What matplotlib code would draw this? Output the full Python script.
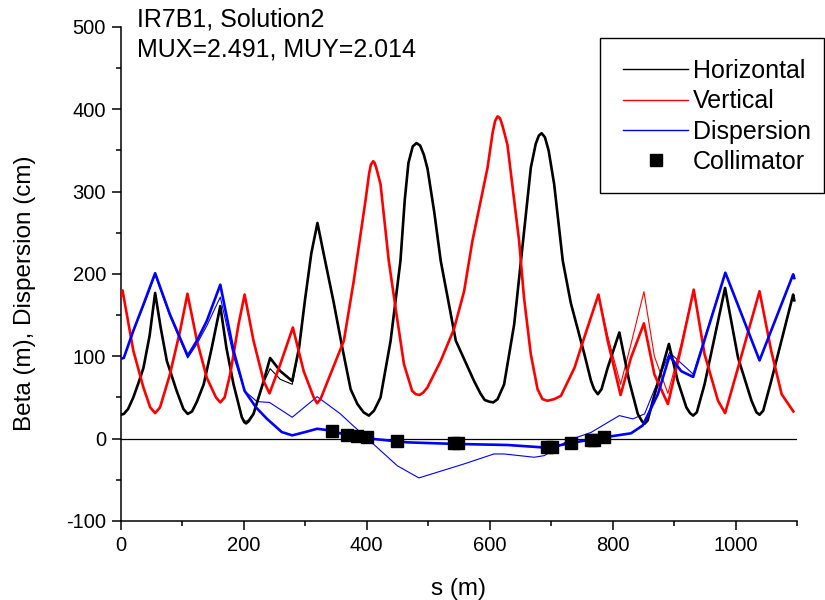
import matplotlib
matplotlib.use('Agg')
import matplotlib.pyplot as plt
from matplotlib.lines import Line2D
from matplotlib.patches import Rectangle
from matplotlib.ticker import MultipleLocator

plt.rcParams['font.family'] = ['Liberation Sans', 'DejaVu Sans']
plt.rcParams['axes.unicode_minus'] = False

# Horizontal beta, solution (thick) and reference (thin)
H_S = [0, 5, 12, 20.5, 30, 37, 47, 56, 65, 75, 91, 102, 109, 116, 124, 135, 148, 162, 172, 183.5, 197, 201,
       204, 208, 216, 232.5, 243, 259.6, 279, 290, 300, 310, 320, 330, 346, 360, 374, 385, 395, 403.6,
       412, 422.6, 439, 455, 462, 468, 475, 481, 487, 493, 499, 510, 520.5, 545, 574.7, 585, 592, 599,
       606, 613, 623.6, 640, 651, 667, 675, 680, 684.6, 690, 696, 705, 719, 732, 754, 765, 770, 776,
       782, 792, 811, 827, 841, 848, 852, 857, 865.5, 891.6, 906, 920, 926, 931, 937, 949.6, 983,
       1004, 1026, 1034, 1039, 1045, 1058, 1093.7, 1095.5]
H_B = [29, 30, 36, 50, 70, 86, 125, 177, 135, 94.5, 58, 36, 30, 33, 45, 66, 110, 161, 110, 66, 26, 20,
       18.5, 21, 30, 70, 98, 82, 70, 110, 170, 225, 262, 225, 167, 112, 60, 42, 32, 28,
       34, 50, 119, 216, 290, 335, 355, 359, 356, 345, 328, 275, 216, 119, 70, 55, 47, 45,
       44, 48, 66, 139, 216, 329, 358, 368, 371, 366, 350, 309, 216, 165, 103, 70, 60, 54,
       60, 86, 129, 70, 30, 21, 18, 22, 46, 115, 70, 38, 31, 28, 32, 66, 183,
       98.5, 46, 32, 29, 34, 70, 175, 168]
H_B_THIN = [29, 30, 36, 50, 70, 86, 125, 177, 135, 94.5, 58, 36, 30, 33, 45, 66, 110, 161, 110, 66, 27, 22,
            21, 23, 31, 68, 85, 72, 66, 108, 170, 225, 262, 225, 167, 112, 60, 42, 32, 28,
            34, 50, 119, 216, 290, 335, 355, 359, 356, 345, 328, 275, 216, 119, 70, 55, 47, 45,
            44, 48, 66, 139, 216, 329, 358, 368, 371, 366, 350, 309, 216, 165, 103, 70, 60, 54,
            60, 86, 129, 70, 30, 21, 18, 22, 46, 115, 70, 38, 31, 28, 32, 66, 183,
            98.5, 46, 32, 29, 34, 70, 175, 168]

# Vertical beta
V_S = [0, 3, 20.5, 37, 48, 56, 64, 80, 96.6, 108.6, 124, 140, 155, 162, 169, 178, 191.7, 201.5, 216, 232.5,
       242, 259.6, 280, 297.6, 314, 319.5, 325, 341, 363, 379, 398, 404, 407, 410.7, 413, 416, 422.6,
       436, 447, 460.7, 474, 480, 486, 492, 498.7, 520.5, 542, 558.5, 572, 596.6, 605, 609, 613, 617,
       621, 629, 648, 656, 667, 678, 686, 694, 705, 716, 738, 754, 777, 792, 813, 830, 851, 868, 890,
       911.6, 932, 949.6, 971.5, 983, 1004, 1039, 1058, 1075, 1094]
V_B = [172, 180, 107, 62, 38, 31, 38, 78, 131, 176, 119, 74, 50, 44, 50, 78, 139, 175, 119, 70,
       55, 90.5, 135, 82, 50, 43, 48, 78, 119, 191.5, 288.5, 322, 333, 337, 335, 328, 309,
       216, 159, 90.5, 58, 54, 53, 56, 62, 94.5, 133, 179, 240, 329, 372, 386, 391.5, 389,
       380, 357, 240, 171, 102.6, 60, 48, 46, 48, 52, 86, 123, 175, 119, 53, 98.5, 140, 78, 42,
       110.7, 181, 102.6, 46, 31, 86, 179, 106.7, 54, 33]
V_B_THIN = [172, 180, 107, 62, 38, 31, 38, 78, 131, 176, 119, 74, 50, 44, 50, 78, 139, 175, 119, 70,
            55, 90.5, 135, 82, 50, 43, 48, 78, 119, 191.5, 288.5, 322, 333, 337, 335, 328, 309,
            216, 159, 90.5, 58, 54, 53, 56, 62, 94.5, 133, 179, 240, 329, 372, 386, 391.5, 389,
            380, 357, 240, 171, 102.6, 60, 48, 46, 48, 52, 86, 123, 175, 125, 66, 115, 178.5, 100, 55,
            115, 181, 102.6, 46, 31, 86, 179, 106.7, 54, 33]

# Dispersion
D_S = [0, 5, 20.5, 37, 56, 80, 109, 124, 140, 162, 183.5, 201.5, 220, 238, 262, 279, 300, 319.5, 340,
       357, 380, 406, 466, 548, 629, 694, 738, 786.6, 830, 849, 873.7, 892.6, 911.6, 931, 983.4, 1039,
       1093.7, 1095.5]
D_B = [97, 98, 131, 163, 201, 151, 100.6, 119, 143, 187, 107, 58, 38, 24, 8, 4, 8, 12, 10,
       6.5, 3, 0, -4.5, -6.5, -7.7, -11, -4.5, 1.6, 6.5, 16, 54, 100.6, 82, 75, 201.6, 95,
       199.6, 195]
D_S_THIN = [0, 5, 20.5, 37, 56, 80, 109, 124, 140, 162, 183.5, 201.5, 221.7, 242, 279, 319.5, 357.5,
            374, 450, 485, 558.5, 607, 623.6, 672.5, 689, 727, 765, 811, 833, 852, 892.6, 931, 983.4,
            1039, 1093.7, 1095.5]
D_B_THIN = [97, 98, 130, 161, 199, 149, 98, 115, 137, 172, 100, 58, 45, 44, 26, 51, 30,
            18.5, -33, -47.7, -30.7, -18.6, -18.6, -22.6, -20.6, -2.4, 7.6, 28, 24, 30, 104.6, 78.4,
            201.6, 95, 199.6, 195]

# Collimators
COLL_S = [344, 368, 385, 401, 449, 542, 548, 694, 701, 733, 765, 769, 786]
COLL_B = [9, 5, 3, 1.6, -3, -5.6, -5.6, -9.7, -9.7, -5.7, -1.6, -1.6, 1.6]

W, H = 825, 600
fig = plt.figure(figsize=(W / 100, H / 100), dpi=100)
ax = fig.add_axes([0.1463, 0.1317, 0.8198, 0.8233])

ax.axhline(0, color='black', linewidth=0.9, zorder=1)
ax.plot(H_S, H_B_THIN, color='black', linewidth=0.8, zorder=2)
ax.plot(V_S, V_B_THIN, color='red', linewidth=0.8, zorder=2)
ax.plot(D_S_THIN, D_B_THIN, color='blue', linewidth=0.8, zorder=2)
ax.plot(H_S, H_B, color='black', linewidth=1.9, zorder=3)
ax.plot(V_S, V_B, color='red', linewidth=1.9, zorder=3)
ax.plot(D_S, D_B, color='blue', linewidth=1.9, zorder=4)
ax.plot(COLL_S, COLL_B, linestyle='none', marker='s', markersize=8.5, color='black', zorder=5)

ax.set_xlim(0, 1100)
ax.set_ylim(-100, 500)
ax.xaxis.set_major_locator(MultipleLocator(200))
ax.xaxis.set_minor_locator(MultipleLocator(100))
ax.yaxis.set_major_locator(MultipleLocator(100))
ax.yaxis.set_minor_locator(MultipleLocator(50))
ax.tick_params(which='major', direction='out', length=6.5, width=1.1, labelsize=14.5, pad=4)
ax.tick_params(which='minor', direction='out', length=3.6, width=1.1)
ax.spines['top'].set_visible(False)
ax.spines['right'].set_visible(False)
for sp in ('left', 'bottom'):
    ax.spines[sp].set_linewidth(1.1)

ax.set_xlabel('s (m)', fontsize=17.5)
ax.xaxis.set_label_coords(0.5, -0.137)
ax.xaxis.label.set_va('center')
ax.set_ylabel('Beta (m), Dispersion (cm)', fontsize=17.5)
ax.yaxis.set_label_coords(-0.141, 0.4615)
ax.yaxis.label.set_va('center')

fig.text(137 / W, 1 - 27 / H, 'IR7B1, Solution2', fontsize=18, va='baseline', ha='left')
fig.text(137 / W, 1 - 57 / H, 'MUX=2.491, MUY=2.014', fontsize=18, va='baseline', ha='left')

# legend frame drawn by hand, entries placed without frame
fig.patches.append(Rectangle((600 / W, 1 - 193 / H), 224 / W, 155 / H, transform=fig.transFigure,
                             facecolor='white', edgecolor='black', linewidth=1.0, zorder=6))
handles = [Line2D([], [], color='black', linewidth=1.0),
           Line2D([], [], color='red', linewidth=1.0),
           Line2D([], [], color='blue', linewidth=1.0),
           Line2D([], [], color='black', linestyle='none', marker='s', markersize=9)]
labels = ['Horizontal', 'Vertical', 'Dispersion', 'Collimator']
leg = fig.legend(handles, labels, loc='upper left', bbox_to_anchor=(623 / W, 1 - 59 / H),
                 fontsize=18, frameon=False, handlelength=2.6, handletextpad=0.2,
                 labelspacing=0.25, borderpad=0, borderaxespad=0)
leg.set_zorder(7)

fig.savefig('out.png', dpi=100)
